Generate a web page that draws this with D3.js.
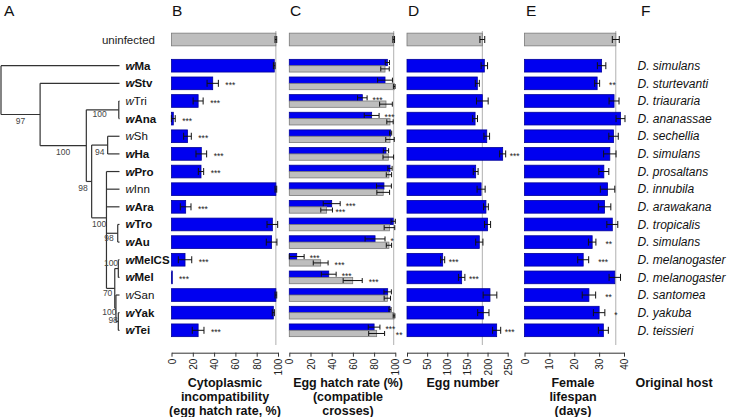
<!DOCTYPE html>
<html><head><meta charset="utf-8">
<script src="https://cdn.jsdelivr.net/npm/d3@7"></script>
<style>body{margin:0;background:#fff} svg{display:block;font-family:"Liberation Sans",Arial,Helvetica,sans-serif}</style>
</head><body><svg id="c" width="737" height="417"></svg>
<script>
// ---------------- DATA ----------------
const strains = ["wMa","wStv","wTri","wAna","wSh","wHa","wPro","wInn","wAra","wTro","wAu","wMelCS","wMel","wSan","wYak","wTei"];
const strainBold = [1,1,0,1,0,1,1,0,1,1,1,1,1,0,1,1];
const hosts = ["D. simulans","D. sturtevanti","D. triauraria","D. ananassae","D. sechellia","D. simulans","D. prosaltans","D. innubila","D. arawakana","D. tropicalis","D. simulans","D. melanogaster","D. melanogaster","D. santomea","D. yakuba","D. teissieri"];

// B: cytoplasmic incompatibility (egg hatch rate, %)
const ciUninf = 98, ciUninfErr = 0.8;
const ciVal = [96.5,38.7,25,1.7,15,28,27.7,98,13.3,94.7,94,12.7,0.5,98,95.6,25];
const ciErr = [0.8,5.3,4.7,1.8,3.6,5,2.5,0.8,5,5,5,6.3,0,0.8,1,5.5];
const ciSig = ["","***","***","***","***","***","***","","***","","","***","***","","","***"];

// C: egg hatch rate (%) of compatible crosses (blue: infected females, gray: uninfected)
const hatchUninf = 98.5, hatchUninfErr = 0.8;
const hatchInf = [92.5,90.3,68.9,77.7,95.6,91.2,95,89.3,40,98,80.9,7,37.2,92.8,95,80];
const hatchInfErr = [2,7,4.5,7,1,2.5,2,7,8,2,9.4,7,7,3.5,1,5.5];
const hatchInfSig = ["","","***","***","","","","","***","","*","***","***","","","***"];
const hatchCtl = [90.3,99,91.2,95,95,93.4,94,88.6,35.2,94.5,94,29.6,59.8,92.5,98.8,82.4];
const hatchCtlErr = [4,0.8,6,3,4,5,2.5,6,5.5,5,2.5,7,9,3,0.8,7.5];
const hatchCtlSig = ["","","","","","","","","***","","","***","***","","","**"];

// D: egg number
const eggUninf = 187, eggUninfErr = 6;
const eggVal = [192,174.6,187,169,198,237.5,170.5,184,196,200,179.5,88.6,135.7,206,189.5,222.6];
const eggErr = [8,5,14.5,6,7,7.5,6,10,6,7.5,9,5,8,17,14,10];
const eggSig = ["","","","","","***","","","","","","***","***","","","***"];

// E: female lifespan (days)
const lifeUninf = 36.7, lifeUninfErr = 1.4;
const lifeVal = [31,29.2,36,38.6,35.8,34.3,31.9,33.4,32.2,35.3,27.2,23.6,36.3,25.9,30,31.7];
const lifeErr = [1.7,1,2,1.8,1.9,2.5,2,2.9,2.5,2.2,1.5,2.2,2.3,2.7,2.3,2];
const lifeSig = ["","**","","","","","","","","","**","***","","**","*",""];

// tick labels
const ticksPct = [0,20,40,60,80,100];
const ticksEgg = [0,50,100,150,200,250];
const ticksLife = [0,10,20,30,40];

// phylogeny (branch depth in relative units, support values)
const tree = {d:0, ch:[
  {leaf:"wMa"},
  {d:33, sup:"97", ch:[
    {leaf:"wStv"},
    {d:72, sup:"100", ch:[
      {d:99.4, sup:"100", ch:[{leaf:"wTri"},{leaf:"wAna"}]},
      {d:76.5, sup:"98", ch:[
        {d:90, sup:"94", ch:[{leaf:"wSh"},{leaf:"wHa"}]},
        {d:89, sup:"100", ch:[
          {leaf:"wPro"},{leaf:"wInn"},{leaf:"wAra"},
          {d:98.5, sup:"98", ch:[{leaf:"wTro"},{leaf:"wAu"}]},
          {d:96, sup:"70", ch:[
            {d:99, sup:"100", ch:[{leaf:"wMelCS"},{leaf:"wMel"}]},
            {d:97, sup:"100", ch:[{leaf:"wSan"},{d:99, sup:"98", ch:[{leaf:"wYak"},{leaf:"wTei"}]}]}
          ]}
        ]}
      ]}
    ]}
  ]}
]};

// ---------------- LAYOUT ----------------
const svg = d3.select("#c");
const y = d3.scaleLinear().domain([0, strains.length-1]).range([65.7, 330.3]);
const yUn = 39.5;
const bh = 12.7;
const axisY = 352.7;
const BLUE = "#0000f0", BLUE_S = "#00009a", GRAY = "#bebebe", GRAY_S = "#7a7a7a";

// panel letters
[["A",4],["B",172],["C",290],["D",408],["E",526],["F",641]].forEach(([t,x])=>{
  svg.append("text").attr("x",x).attr("y",16).attr("font-size",15.5).attr("fill","#111").text(t);
});

// ---------------- TREE ----------------
const tx = d3.scaleLinear().domain([0,100]).range([1,119.5]);
const tg = svg.append("g").attr("stroke","#333").attr("stroke-width",1.2).attr("fill","none");
function layout(n){
  if(n.leaf){ n.y = y(strains.indexOf(n.leaf)); n.d = 100; return n.y; }
  const ys = n.ch.map(layout);
  n.y = d3.mean(ys); n.y0 = d3.min(ys); n.y1 = d3.max(ys);
  return n.y;
}
layout(tree);
function draw(n, parentD){
  if(parentD !== undefined){
    tg.append("line").attr("x1",tx(parentD)).attr("x2",tx(n.d)).attr("y1",n.y).attr("y2",n.y);
  }
  if(n.ch){
    tg.append("line").attr("x1",tx(n.d)).attr("x2",tx(n.d)).attr("y1",n.y0).attr("y2",n.y1);
    n.ch.forEach(c=>draw(c,n.d));
  }
}
draw(tree);
// support labels
const supPlace = [];
function supLabels(n, parentD){
  if(n.ch){
    if(n.sup){
      let xm = (tx(parentD)+tx(n.d))/2, yy = n.y + 9.5;
      supPlace.push({t:n.sup, x:xm, y:yy, n:n});
    }
    n.ch.forEach(c=>supLabels(c,n.d));
  }
}
supLabels(tree);
const adj = {"98|76.5":[-6,0],"100|99.4":[-3,-2],"98|98.5":[-3,-2],"70|96":[-3,-2],"100|97":[-6,-3],"98|99":[-4,-7.5]};
supPlace.forEach(s=>{
  let k = s.t+"|"+s.n.d;
  if(s.n.d===99 && s.n.ch[0].leaf==="wMelCS"){ s.x = 111; s.y = s.n.y - 3; }
  else if(adj[k]){ s.x += adj[k][0]; s.y += adj[k][1]; }
  svg.append("text").attr("x",s.x).attr("y",s.y).attr("text-anchor","middle")
    .attr("font-size",8.5).attr("fill","#444").text(s.t);
});

// strain labels
svg.append("text").attr("x",155).attr("y",yUn).attr("dy","0.35em").attr("text-anchor","end")
  .attr("font-size",11.5).attr("fill","#222").text("uninfected");
strains.forEach((s,i)=>{
  const t = svg.append("text").attr("x",125.5).attr("y",y(i)).attr("dy","0.35em")
    .attr("font-size",11.5).attr("fill","#111").attr("font-weight",strainBold[i]?"bold":"normal");
  t.append("tspan").attr("font-style","italic").text(s[0]);
  t.append("tspan").text(s.slice(1));
});

// ---------------- BAR PANELS ----------------
function errBar(g, x, x1, x2, yc, cap){
  g.append("line").attr("x1",x(x1)).attr("x2",x(x2)).attr("y1",yc).attr("y2",yc);
  g.append("line").attr("x1",x(x1)).attr("x2",x(x1)).attr("y1",yc-cap/2).attr("y2",yc+cap/2);
  g.append("line").attr("x1",x(x2)).attr("x2",x(x2)).attr("y1",yc-cap/2).attr("y2",yc+cap/2);
}
const STAR_FS = 8.5, STAR_W = 0.389*STAR_FS;
function placeStars(sx, yc, s){
  svg.append("text").attr("x",sx).attr("y",yc+STAR_FS*0.58).attr("font-size",STAR_FS).attr("fill","#222").text(s);
}
function panel(x0,x1,dom,ticks,uninf,uninfErr,series,gaps){
  const x = d3.scaleLinear().domain(dom).range([x0,x1]);
  svg.append("line").attr("x1",x(uninf)).attr("x2",x(uninf)).attr("y1",31).attr("y2",345)
    .attr("stroke","#b0b0b0").attr("stroke-width",1);
  const g = svg.append("g");
  const eg = svg.append("g").attr("stroke","#111").attr("stroke-width",1);
  g.append("rect").attr("x",x(0)).attr("y",yUn-bh/2).attr("width",x(uninf)-x(0)).attr("height",bh)
    .attr("fill",GRAY).attr("stroke",GRAY_S).attr("stroke-width",0.8);
  errBar(eg,x,uninf-uninfErr,uninf+uninfErr,yUn,7);
  const ns = series.length, sh = bh/ns;
  const rowSpan = [];
  series.forEach((se,k)=>{
    se.v.forEach((v,i)=>{
      const top = y(i)-bh/2 + k*sh, yc = top+sh/2;
      g.append("rect").attr("x",x(0)).attr("y",top).attr("width",Math.max(0.8,x(v)-x(0))).attr("height",sh)
        .attr("fill",se.c).attr("stroke",se.s).attr("stroke-width",0.8);
      if(se.e[i]>0) errBar(eg,x,v-se.e[i],v+se.e[i],yc,ns>1?5:7);
      const s = se.sig[i];
      if(!s) return;
      const eEnd = x(v+se.e[i]), w = s.length*STAR_W;
      let sx = eEnd + gaps[k];
      const prev = rowSpan[i];
      if(prev && sx < prev[1] && sx + w > prev[0]){
        // avoid piling onto the star label of the sub-bar above
        const left = prev[0] - w - 0.3;
        sx = (left >= eEnd + 2) ? left : prev[1] + 0.5;
      }
      placeStars(sx, yc, s);
      rowSpan[i] = [sx, sx+w];
    });
  });
  const ax = svg.append("g").attr("transform",`translate(0,${axisY})`)
    .call(d3.axisBottom(x).tickValues(ticks).tickSize(4).tickSizeOuter(0).tickFormat(d3.format("d")));
  ax.select(".domain").attr("stroke","#333");
  ax.selectAll(".tick line").attr("stroke","#333");
  ax.selectAll(".tick text").attr("transform","rotate(-90)").attr("text-anchor","end")
    .attr("x",-6).attr("y",0).attr("dy","0.35em").attr("font-size",10).attr("fill","#222")
    .attr("font-family","Liberation Sans, Arial, sans-serif");
  return x;
}
panel(171.5,278,[0,100],ticksPct,ciUninf,ciUninfErr,[{v:ciVal,e:ciErr,sig:ciSig,c:BLUE,s:BLUE_S}],[7]);
panel(289.3,395.3,[0,100],ticksPct,hatchUninf,hatchUninfErr,[
  {v:hatchInf,e:hatchInfErr,sig:hatchInfSig,c:BLUE,s:BLUE_S},
  {v:hatchCtl,e:hatchCtlErr,sig:hatchCtlSig,c:GRAY,s:GRAY_S}],[5.5,6.5]);
panel(407,507.7,[0,250],ticksEgg,eggUninf,eggUninfErr,[{v:eggVal,e:eggErr,sig:eggSig,c:BLUE,s:BLUE_S}],[4]);
panel(524.5,624,[0,40],ticksLife,lifeUninf,lifeUninfErr,[{v:lifeVal,e:lifeErr,sig:lifeSig,c:BLUE,s:BLUE_S}],[9.5]);

// host labels
hosts.forEach((h,i)=>{
  svg.append("text").attr("x",637.5).attr("y",y(i)).attr("dy","0.35em").attr("font-size",12)
    .attr("font-style","italic").attr("fill","#111").text(h);
});

// titles
const titles = [
  [225,["Cytoplasmic","incompatibility","(egg hatch rate, %)"]],
  [348,["Egg hatch rate (%)","(compatible","crosses)"]],
  [463,["Egg number"]],
  [573,["Female","lifespan","(days)"]],
  [674,["Original host"]]
];
titles.forEach(([cx,lines])=>{
  lines.forEach((l,j)=>{
    svg.append("text").attr("x",cx).attr("y",386.5+j*14).attr("text-anchor","middle")
      .attr("font-size",12.5).attr("font-weight","bold").attr("fill","#111").text(l);
  });
});
</script></body></html>
